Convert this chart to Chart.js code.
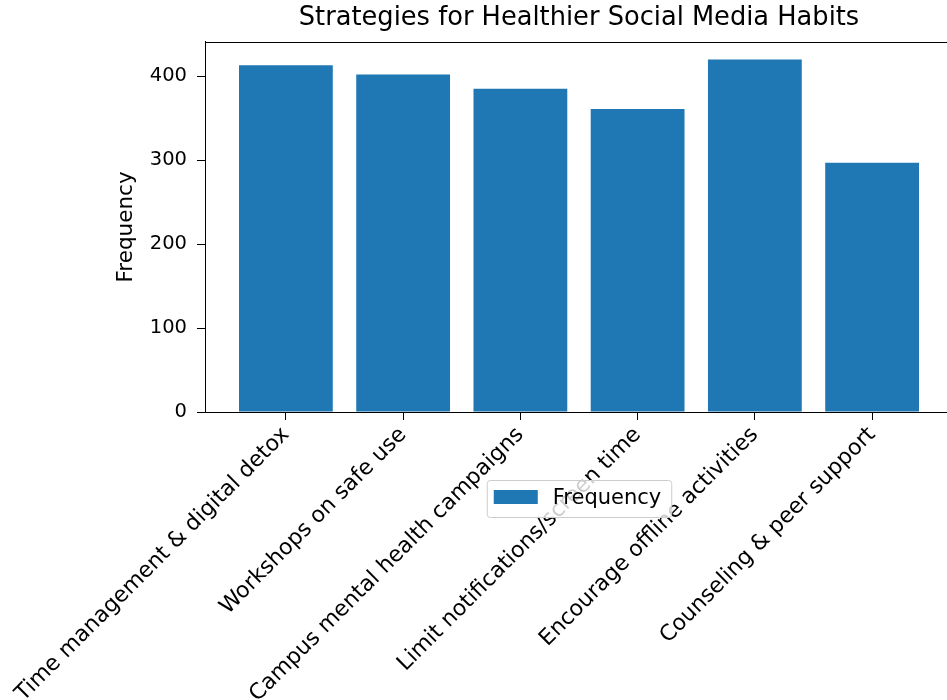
<!DOCTYPE html>
<html>
<head>
<meta charset="utf-8">
<script src="https://cdn.jsdelivr.net/npm/chart.js@4"></script>
<style>
  html, body { margin: 0; padding: 0; background: #fff; overflow: hidden; }
  #wrap { width: 1000px; height: 700px; }
</style>
</head>
<body>
<div id="wrap"><canvas id="c" width="1000" height="700"></canvas></div>
<script>
const titleText = "Strategies for Healthier Social Media Habits";
const categories = [
  "Time management & digital detox",
  "Workshops on safe use",
  "Campus mental health campaigns",
  "Limit notifications/screen time",
  "Encourage offline activities",
  "Counseling & peer support"
];
const frequencyValues = [413, 402, 385, 361, 420, 297];
const seriesLabel = "Frequency";
const yTicks = [0, 100, 200, 300, 400];
const yAxisLabel = "Frequency";

const FONT = "'DejaVu Sans', sans-serif";
const BAR = "#1f77b4";

const framePlugin = {
  id: 'frame',
  afterDatasetsDraw(chart) {
    const a = chart.chartArea, ctx = chart.ctx;
    ctx.save();
    ctx.strokeStyle = '#000';
    ctx.lineWidth = 1;
    ctx.strokeRect(Math.round(a.left) + 0.5, Math.round(a.top) + 0.5,
                   Math.round(a.right - a.left), Math.round(a.bottom - a.top));
    ctx.restore();
  }
};

const legendPlugin = {
  id: 'mplLegend',
  afterDraw(chart) {
    const a = chart.chartArea, ctx = chart.ctx;
    const ds = chart.data.datasets[0];
    ctx.save();
    ctx.font = "21px " + FONT;
    const tw = ctx.measureText(ds.label).width;
    const w = 8 + 44 + 14 + tw + 10;
    const h = 37;
    const cx = (a.left + a.right) / 2;
    const x = cx - w / 2, y = a.bottom + 68;
    ctx.beginPath();
    ctx.roundRect(x + 0.5, y + 0.5, w, h, 3);
    ctx.fillStyle = 'rgba(255,255,255,0.8)';
    ctx.fill();
    ctx.strokeStyle = '#cccccc';
    ctx.lineWidth = 1;
    ctx.stroke();
    ctx.fillStyle = ds.backgroundColor;
    ctx.fillRect(x + 7, y + 10, 44, 14);
    ctx.fillStyle = '#000';
    ctx.textBaseline = 'middle';
    ctx.textAlign = 'left';
    ctx.fillText(ds.label, x + 8 + 44 + 14, y + h / 2 + 0.5);
    ctx.restore();
  }
};

new Chart(document.getElementById('c'), {
  type: 'bar',
  data: {
    datasets: [{
      label: seriesLabel,
      data: frequencyValues.map((v, i) => ({ x: i, y: v })),
      backgroundColor: BAR,
      borderWidth: 0,
      categoryPercentage: 0.8,
      barPercentage: 1.0
    }]
  },
  plugins: [framePlugin, legendPlugin],
  options: {
    responsive: false,
    animation: false,
    devicePixelRatio: 1,
    layout: { padding: { left: 110, right: 47, top: 0, bottom: 0 } },
    plugins: {
      legend: { display: false },
      tooltip: { enabled: false },
      title: {
        display: true,
        text: titleText,
        fullSize: false,
        color: '#000',
        font: { family: FONT, size: 25.7, weight: 'normal' },
        padding: { top: 3, bottom: 8 }
      }
    },
    scales: {
      x: {
        type: 'linear',
        offset: false,
        min: -0.69,
        max: categories.length - 1 + 0.69,
        afterFit(s) { s.height = 288; s.paddingLeft = 0; s.paddingRight = 0; },
        border: { display: true, color: '#000', width: 1 },
        grid: { offset: false, drawOnChartArea: false, drawTicks: true, tickLength: 8, tickColor: '#000' },
        ticks: {
          stepSize: 1,
          includeBounds: false,
          autoSkip: false,
          minRotation: 45,
          maxRotation: 45,
          padding: 2,
          color: '#000',
          font: { family: FONT, size: 22 },
          callback: (v) => Number.isInteger(v) && categories[v] !== undefined ? categories[v] : ''
        }
      },
      y: {
        min: 0,
        max: 441,
        afterFit(s) { s.width = 95; s.paddingTop = 0; s.paddingBottom = 0; },
        afterBuildTicks(s) { s.ticks = yTicks.map(v => ({ value: v })); },
        border: { display: true, color: '#000', width: 1 },
        grid: { drawOnChartArea: false, drawTicks: true, tickLength: 8, tickColor: '#000' },
        ticks: {
          padding: 10,
          color: '#000',
          font: { family: FONT, size: 19.5 }
        },
        title: {
          display: true,
          text: yAxisLabel,
          color: '#000',
          font: { family: FONT, size: 21.5 },
          padding: { top: 4, bottom: 4 }
        }
      }
    }
  }
});
</script>
</body>
</html>
